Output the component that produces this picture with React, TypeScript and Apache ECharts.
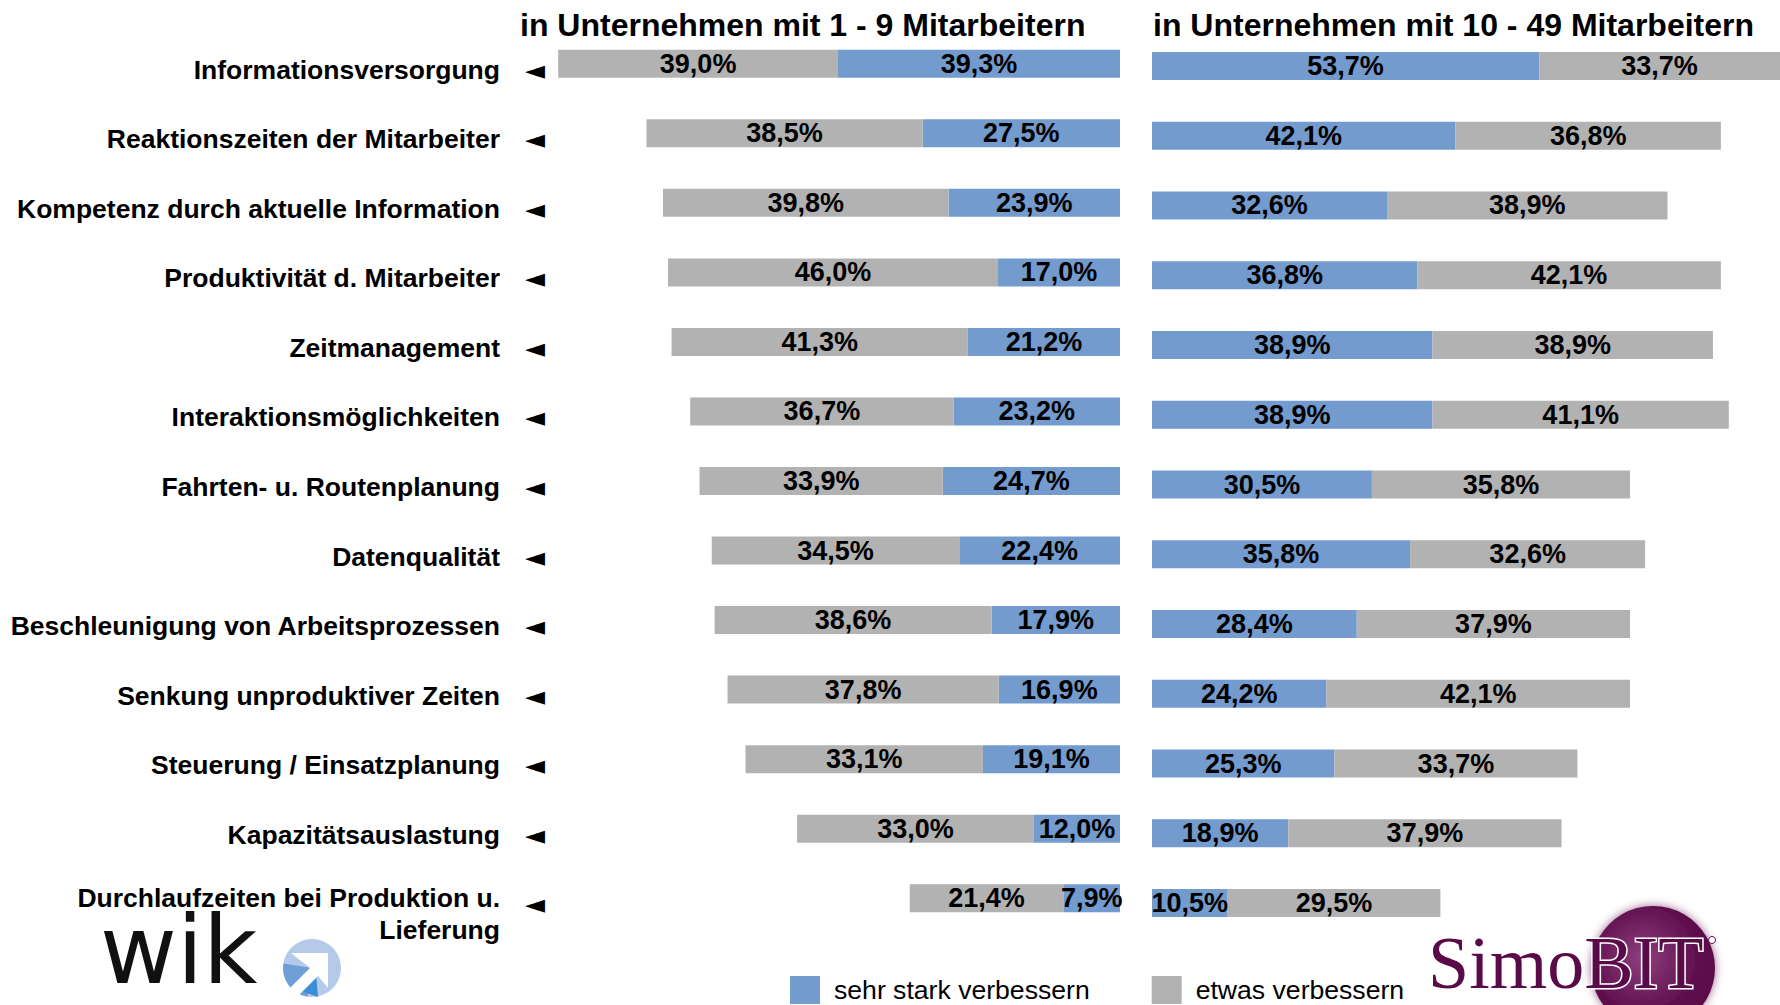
import React, { useEffect, useRef } from 'react';
import * as echarts from 'echarts';

const categories = [
  'Informationsversorgung',
  'Reaktionszeiten der Mitarbeiter',
  'Kompetenz durch aktuelle Information',
  'Produktivität d. Mitarbeiter',
  'Zeitmanagement',
  'Interaktionsmöglichkeiten',
  'Fahrten- u. Routenplanung',
  'Datenqualität',
  'Beschleunigung von Arbeitsprozessen',
  'Senkung unproduktiver Zeiten',
  'Steuerung / Einsatzplanung',
  'Kapazitätsauslastung',
  'Durchlaufzeiten bei Produktion u.\nLieferung',
];

// Unternehmen mit 1 - 9 Mitarbeitern
const smallStrong = [39.3, 27.5, 23.9, 17.0, 21.2, 23.2, 24.7, 22.4, 17.9, 16.9, 19.1, 12.0, 7.9];
const smallSome = [39.0, 38.5, 39.8, 46.0, 41.3, 36.7, 33.9, 34.5, 38.6, 37.8, 33.1, 33.0, 21.4];
// Unternehmen mit 10 - 49 Mitarbeitern
const midStrong = [53.7, 42.1, 32.6, 36.8, 38.9, 38.9, 30.5, 35.8, 28.4, 24.2, 25.3, 18.9, 10.5];
const midSome = [33.7, 36.8, 38.9, 42.1, 38.9, 41.1, 35.8, 32.6, 37.9, 42.1, 33.7, 37.9, 29.5];

const panelTitles = ['in Unternehmen mit 1 - 9 Mitarbeitern', 'in Unternehmen mit 10 - 49 Mitarbeitern'];
const legendNames = ['sehr stark verbessern', 'etwas verbessern'];

const BLUE = '#739BCD';
const GRAY = '#B2B2B2';
const FONT = "'Liberation Sans', Arial, Helvetica, sans-serif";
const SERIF = "'Liberation Serif', 'Times New Roman', serif";

const fmtPct = (p: any) => Number(p.value).toFixed(1).replace('.', ',') + '%';

// category label: multi-line names get a small spacer line on top so that their first line sits on the bar
const fmtCategory = (v: string) => {
  const lines = v.split('\n').map((s) => '{l|' + s + '}');
  return lines.length > 1 ? '{s| }\n' + lines.join('\n') : lines[0];
};

export default function App() {
  const ref = useRef<HTMLDivElement>(null);

  useEffect(() => {
    if (!ref.current) return;
    const chart = echarts.init(ref.current, undefined, { renderer: 'svg' });

    const barLabel = {
      show: true,
      position: 'inside',
      formatter: fmtPct,
      color: '#000',
      fontSize: 27,
      fontWeight: 'bold',
      fontFamily: FONT,
      textBorderWidth: 0,
    };

    const option: any = {
      animation: false,
      backgroundColor: '#fff',
      textStyle: { fontFamily: FONT },
      title: [
        {
          text: panelTitles[0],
          left: 520,
          top: 9,
          padding: 0,
          textStyle: { fontSize: 32, fontWeight: 'bold', color: '#000', fontFamily: FONT },
        },
        {
          text: panelTitles[1],
          left: 1153,
          top: 9,
          padding: 0,
          textStyle: { fontSize: 32, fontWeight: 'bold', color: '#000', fontFamily: FONT },
        },
      ],
      legend: {
        data: legendNames,
        left: 790,
        top: 976,
        itemWidth: 30,
        itemHeight: 28,
        itemGap: 62,
        icon: 'rect',
        padding: 0,
        textStyle: {
          fontSize: 26.6, color: '#000', fontFamily: FONT, lineHeight: 26, padding: [0, 0, 0, 9],
        },
      },
      grid: [
        { left: 546, top: 29, width: 574, height: 904, outerBoundsMode: 'none' },
        { left: 1152, top: 31, width: 628, height: 907, outerBoundsMode: 'none' },
        // label grid (category names and arrows), set slightly lower as in the original
        { left: 546, top: 35, width: 574, height: 904, outerBoundsMode: 'none' },
      ],
      xAxis: [
        { type: 'value', gridIndex: 0, inverse: true, min: 0, max: 80, show: false },
        { type: 'value', gridIndex: 1, min: 0, max: 87.1, show: false },
        { type: 'value', gridIndex: 2, inverse: true, min: 0, max: 80, show: false },
      ],
      yAxis: [
        {
          type: 'category',
          gridIndex: 0,
          data: categories,
          inverse: true,
          show: false,
        },
        {
          type: 'category',
          gridIndex: 1,
          data: categories,
          inverse: true,
          show: false,
        },
        {
          type: 'category',
          gridIndex: 2,
          data: categories,
          inverse: true,
          position: 'left',
          axisLine: { show: false },
          axisTick: { show: false },
          splitLine: { show: false },
          axisLabel: {
            interval: 0,
            margin: 46,
            fontSize: 26.5,
            fontWeight: 'bold',
            color: '#000',
            fontFamily: FONT,
            formatter: fmtCategory,
            rich: {
              l: {
                fontSize: 26.5, fontWeight: 'bold', color: '#000', fontFamily: FONT,
                lineHeight: 32, align: 'right',
              },
              s: { fontSize: 8, lineHeight: 20 },
            },
          },
        },
        {
          type: 'category',
          gridIndex: 2,
          data: categories,
          inverse: true,
          position: 'left',
          axisLine: { show: false },
          axisTick: { show: false },
          splitLine: { show: false },
          axisLabel: {
            interval: 0,
            margin: 1,
            fontSize: 26,
            color: '#000',
            fontFamily: "'DejaVu Sans', sans-serif",
            formatter: () => '◄',
          },
        },
      ],
      series: [
        {
          name: legendNames[0], type: 'bar', stack: 'small', xAxisIndex: 0, yAxisIndex: 0,
          data: smallStrong, barWidth: 28, itemStyle: { color: BLUE }, label: barLabel,
        },
        {
          name: legendNames[1], type: 'bar', stack: 'small', xAxisIndex: 0, yAxisIndex: 0,
          data: smallSome, barWidth: 28, itemStyle: { color: GRAY }, label: barLabel,
        },
        {
          name: legendNames[0], type: 'bar', stack: 'mid', xAxisIndex: 1, yAxisIndex: 1,
          data: midStrong, barWidth: 28, itemStyle: { color: BLUE }, label: barLabel,
        },
        {
          name: legendNames[1], type: 'bar', stack: 'mid', xAxisIndex: 1, yAxisIndex: 1,
          data: midSome, barWidth: 28, itemStyle: { color: GRAY }, label: barLabel,
        },
      ],
      graphic: [
        // wik logo
        {
          type: 'text',
          style: {
            text: 'wik', x: 100, y: 950, verticalAlign: 'middle', align: 'left',
            fontSize: 94, fontFamily: "'DejaVu Sans', sans-serif", fill: '#111',
          },
        },
        { type: 'circle', shape: { cx: 312, cy: 968, r: 29 }, style: { fill: '#B4CAE8' } },
        {
          type: 'sector',
          shape: { cx: 312, cy: 968, r: 29, r0: 0, startAngle: Math.PI * 0.55, endAngle: Math.PI * 1.05 },
          style: { fill: '#6F9ED6' },
        },
        {
          type: 'polygon',
          shape: { points: [[298, 990], [316, 972], [318, 997]] },
          style: { fill: '#3A8ED6' },
        },
        {
          type: 'polygon',
          shape: {
            points: [[291, 953], [328, 953], [328, 988], [318, 976], [298, 996], [290, 988], [310, 968]],
          },
          style: { fill: '#fff' },
        },
        // SimoBIT logo
        {
          type: 'circle',
          shape: { cx: 1653, cy: 968, r: 62 },
          style: {
            fill: {
              type: 'radial', x: 0.42, y: 0.42, r: 0.6,
              colorStops: [
                { offset: 0, color: '#8E3F7E' },
                { offset: 0.75, color: '#5E0E4C' },
                { offset: 1, color: '#5A0A48' },
              ],
            },
            shadowBlur: 10,
            shadowColor: 'rgba(90,10,72,0.6)',
          },
        },
        {
          type: 'text',
          style: {
            text: '{a|Simo}{b|BIT}',
            x: 1428,
            y: 963,
            align: 'left',
            verticalAlign: 'middle',
            rich: {
              a: { fontSize: 74, fontFamily: SERIF, fill: '#5A0A48' },
              b: {
                fontSize: 74, fontFamily: SERIF, fill: '#5A0A48',
                stroke: '#ffffff', lineWidth: 3,
              },
            },
          },
        },
        {
          type: 'circle', shape: { cx: 1712, cy: 940, r: 3.5 },
          style: { fill: '#fff', stroke: '#5A0A48', lineWidth: 1 },
        },
      ],
    };

    chart.setOption(option);
    return () => chart.dispose();
  }, []);

  return (
    <div
      ref={ref}
      style={{ position: 'absolute', left: 0, top: 0, width: 1780, height: 1005, background: '#fff' }}
    />
  );
}
